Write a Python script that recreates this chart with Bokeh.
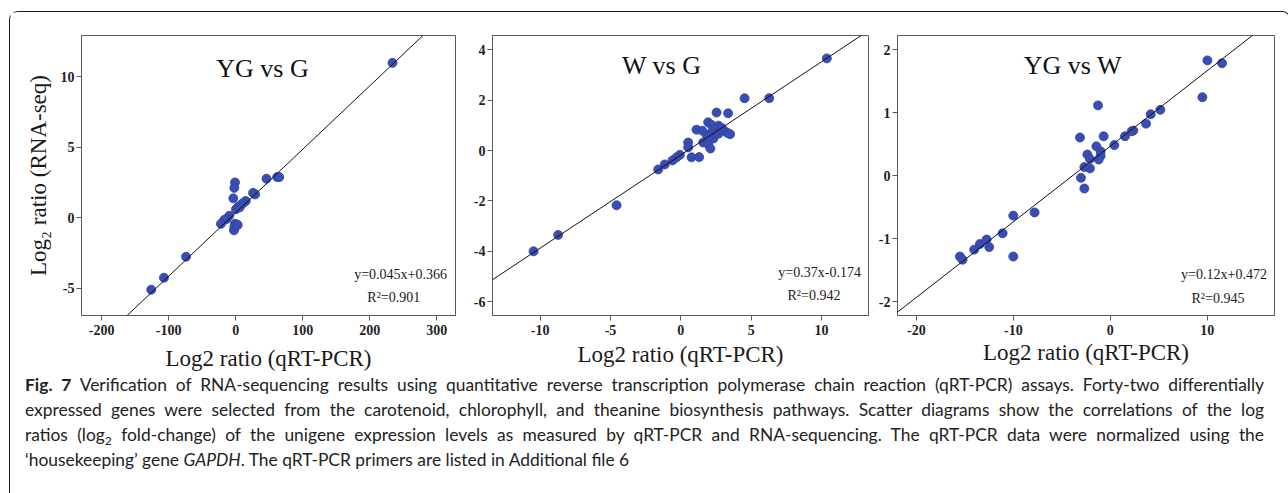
from bokeh.plotting import figure
from bokeh.models import FixedTicker, Slope, Label, Div, Range1d
from bokeh.layouts import row, column
from bokeh.embed import file_html
from bokeh.resources import INLINE

# ---------------- data ----------------
# Panel 1: YG vs G
yg_g_qpcr = [234, 62, 65, 46, 26, 29, 15, 9, 4, 0.5, -1, -2, -3.5, 1.5, -1, -2.5, -2,
             -9.4, -13.4, -17, -22, -74, -107, -126, 3, 6, 11]
yg_g_rnaseq = [11.0, 2.9, 2.9, 2.78, 1.78, 1.67, 1.2, 0.97, 0.8, 0.62, 2.52, 2.13, 1.39, -0.46,
               -0.42, -0.88, -0.65, 0.16, -0.07, -0.14, -0.42, -2.75, -4.24, -5.09, -0.5, 0.75, 1.05]
# Panel 2: W vs G
w_g_qpcr = [10.38, 6.28, 4.53, 2.54, 3.36, 1.94, 2.18, 1.11, 1.52, 2.68, 2.44, 2.2, 1.85, 2.32,
            2.68, 3.04, 3.3, 3.5, 1.59, 1.94, 2.1, 0.52, 0.52, 0.76, 1.3, -0.07, -0.31, -0.59,
            -1.14, -1.61, -4.57, -8.72, -10.47, 2.9, 2.0]
w_g_rnaseq = [3.66, 2.08, 2.08, 1.51, 1.48, 1.12, 1.02, 0.83, 0.79, 0.99, 0.86, 0.74, 0.61, 0.48,
              0.67, 0.8, 0.71, 0.65, 0.32, 0.25, 0.08, 0.32, 0.13, -0.27, -0.26, -0.17, -0.27, -0.39,
              -0.55, -0.75, -2.17, -3.35, -4.0, 0.9, 0.55]
# Panel 3: YG vs W
yg_w_qpcr = [10.01, 11.52, 9.49, 5.16, 4.16, 3.68, 2.37, 2.2, 1.51, 0.41, -0.69, -1.27, -1.44,
             -1.0, -1.0, -1.2, -2.37, -2.1, -2.1, -2.68, -3.13, -3.03, -2.68, -7.81, -10.01,
             -11.11, -12.76, -12.49, -13.45, -14.04, -10.01, -15.51, -15.24]
yg_w_rnaseq = [1.835, 1.79, 1.25, 1.05, 0.98, 0.83, 0.72, 0.71, 0.63, 0.49, 0.63, 1.12, 0.47,
               0.39, 0.32, 0.26, 0.34, 0.27, 0.12, 0.14, 0.61, -0.03, -0.2, -0.58, -0.63,
               -0.91, -1.01, -1.13, -1.08, -1.17, -1.28, -1.28, -1.33]

titles = ["YG vs G", "W vs G", "YG vs W"]
slopes = [0.045, 0.37, 0.12]
intercepts = [0.366, -0.174, 0.472]
equations = ["y=0.045x+0.366", "y=0.37x-0.174", "y=0.12x+0.472"]
r2_labels = ["R²=0.901", "R²=0.942", "R²=0.945"]

x_ticks = [[-200, -100, 0, 100, 200, 300], [-10, -5, 0, 5, 10], [-20, -10, 0, 10]]
y_ticks = [[-5, 0, 5, 10], [-6, -4, -2, 0, 2, 4], [-2, -1, 0, 1, 2]]
x_tick_labels = [["-200", "-100", "0", "100", "200", "300"], ["-10", "-5", "0", "5", "10"],
                 ["-20", "-10", "0", "10"]]
y_tick_labels = [["-5", "0", "5", "10"], ["-6", "-4", "-2", "0", "2", "4"],
                 ["-2", "-1", "0", "1", "2"]]

x_axis_title = "Log2 ratio (qRT-PCR)"
y_axis_title = "Log₂ ratio (RNA-seq)"

# ---------------- layout settings ----------------
SERIF = "Liberation Serif"
FRAME_COL = "#5a5a5a"
DOT = "#3a4db4"

x_ranges = [(-230, 328), (-13.39, 13.34), (-21.95, 16.93)]
y_ranges = [(-6.92, 12.94), (-6.55, 4.57), (-2.216, 2.23)]
sizes = [  # width, height, left, right, top, bottom
    (451, 361, 71, 6, 18, 57),
    (410, 361, 31, 3, 21, 52),
    (412, 361, 26, 9, 23, 50),
]
tick_standoff = [4, 4, 4]
label_standoff = [8, 4, 2]
title_pos = [(0.484, 0.119), (0.45, 0.107), (0.465, 0.107)]
eq_pos = [(0.853, 0.853, 0.835, 0.937), (0.87, 0.845, 0.855, 0.93), (0.866, 0.854, 0.85, 0.94)]

data = [(yg_g_qpcr, yg_g_rnaseq), (w_g_qpcr, w_g_rnaseq), (yg_w_qpcr, yg_w_rnaseq)]

figs = []
for i in range(3):
    w, h, bl, br, bt, bb = sizes[i]
    x0, x1 = x_ranges[i]
    y0, y1 = y_ranges[i]
    p = figure(width=w, height=h, output_backend="svg", toolbar_location=None,
               x_range=Range1d(x0, x1), y_range=Range1d(y0, y1),
               min_border_left=bl, min_border_right=br, min_border_top=bt, min_border_bottom=bb)
    p.background_fill_color = "white"
    p.border_fill_color = "white"
    p.outline_line_color = FRAME_COL
    p.outline_line_width = 1
    p.grid.visible = False

    for ax in (p.xaxis[0], p.yaxis[0]):
        ax.axis_line_color = FRAME_COL
        ax.major_tick_line_color = FRAME_COL
        ax.major_tick_out = 5
        ax.major_tick_in = 0
        ax.minor_tick_line_color = None
        ax.major_label_text_font = SERIF
        ax.major_label_text_font_style = "bold"
        ax.major_label_text_font_size = "14px"
        ax.major_label_text_color = "#222222"
        ax.axis_label_text_font = SERIF
        ax.axis_label_text_font_style = "normal"
        ax.axis_label_text_font_size = "23px"
        ax.axis_label_text_color = "#1a1a1a"

    p.xaxis[0].ticker = FixedTicker(ticks=x_ticks[i])
    p.yaxis[0].ticker = FixedTicker(ticks=y_ticks[i])
    p.xaxis[0].major_label_overrides = dict(zip(x_ticks[i], x_tick_labels[i]))
    p.yaxis[0].major_label_overrides = dict(zip(y_ticks[i], y_tick_labels[i]))
    p.xaxis[0].major_label_standoff = tick_standoff[i]
    p.yaxis[0].major_label_standoff = 2
    p.xaxis[0].axis_label = x_axis_title
    p.xaxis[0].axis_label_standoff = label_standoff[i]
    if i == 0:
        p.yaxis[0].axis_label = y_axis_title
        p.yaxis[0].axis_label_standoff = 7

    p.add_layout(Slope(gradient=slopes[i], y_intercept=intercepts[i],
                       line_color="#111111", line_width=1))
    xs, ys = data[i]
    p.scatter(xs, ys, size=9, fill_color=DOT, line_color="#30439e", line_width=0.8)

    tx, ty = title_pos[i]
    p.add_layout(Label(x=x0 + tx * (x1 - x0), y=y1 - ty * (y1 - y0), text=titles[i],
                       text_font=SERIF, text_font_size="26px", text_align="center",
                       text_baseline="middle", text_color="#111111"))
    ex, ey, rx, ry = eq_pos[i]
    p.add_layout(Label(x=x0 + ex * (x1 - x0), y=y1 - ey * (y1 - y0), text=equations[i],
                       text_font=SERIF, text_font_size="14px", text_align="center",
                       text_baseline="middle", text_color="#1a1a1a"))
    p.add_layout(Label(x=x0 + rx * (x1 - x0), y=y1 - ry * (y1 - y0), text=r2_labels[i],
                       text_font=SERIF, text_font_size="14px", text_align="center",
                       text_baseline="middle", text_color="#1a1a1a"))
    figs.append(p)

caption_lines = [
    "<b>Fig. 7</b> Verification of RNA-sequencing results using quantitative reverse transcription "
    "polymerase chain reaction (qRT-PCR) assays. Forty-two differentially",
    "expressed genes were selected from the carotenoid, chlorophyll, and theanine biosynthesis "
    "pathways. Scatter diagrams show the correlations of the log",
    "ratios (log<sub style='font-size:70%;vertical-align:-0.3em;line-height:0'>2</sub> fold-change) "
    "of the unigene expression levels as measured by qRT-PCR and RNA-sequencing. The qRT-PCR data "
    "were normalized using the",
    "‘housekeeping’ gene <i>GAPDH</i>. The qRT-PCR primers are listed in Additional file 6",
]
html = "<div style=\"font-family:Lato,'Open Sans',sans-serif;font-size:17.4px;line-height:25px;" \
       "color:#222;padding-left:10px;width:1249px\">"
for k, ln in enumerate(caption_lines):
    if k < len(caption_lines) - 1:
        html += "<div style='text-align:justify;text-align-last:justify;white-space:nowrap'>" + ln + "</div>"
    else:
        html += "<div style='white-space:nowrap'>" + ln + "</div>"
html += "</div>"
cap = Div(text=html, width=1270, height=116, styles={"margin-top": "-1px"})

layout = column(row(*figs), cap, margin=(11, 0, 0, 9),
                styles={"border-top": "1.6px solid #1a1a1a", "border-left": "1.6px solid #1a1a1a",
                        "border-right": "1.6px solid #1a1a1a",
                        "border-top-left-radius": "9px", "border-top-right-radius": "9px"})

open("out.html", "w").write(file_html(layout, INLINE))
